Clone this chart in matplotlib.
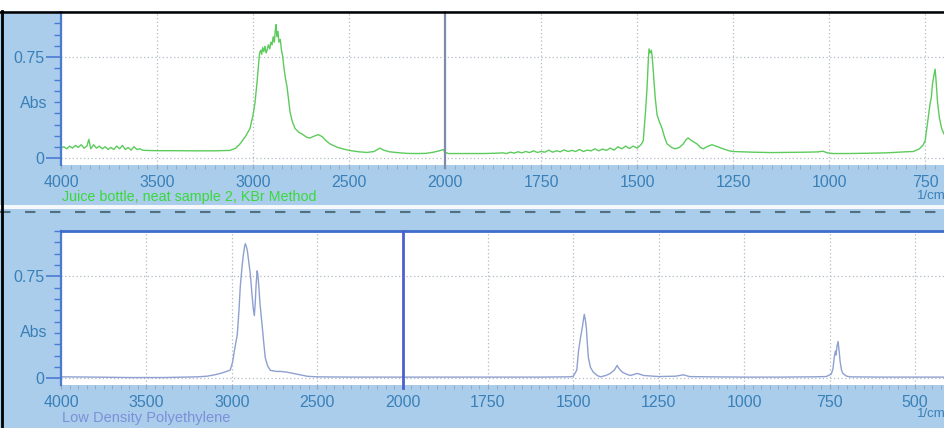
#!/usr/bin/env python3
"""
FTIR spectra: juice bottle sample vs. low density polyethylene reference
"""

import numpy as np
import matplotlib
matplotlib.use("Agg")
import matplotlib.pyplot as plt
from matplotlib.lines import Line2D
from matplotlib.patches import Rectangle

plt.rcParams['font.family'] = ['Liberation Sans', 'DejaVu Sans']

# Sample spectrum (green, upper panel) - wavenumber (1/cm) and absorbance
juice_wn = [4000, 3985, 3970, 3955, 3940, 3925, 3910, 3895, 3880, 3865, 3855, 3845,
            3830, 3815, 3800, 3785, 3770, 3755, 3740, 3725, 3710, 3695, 3680, 3665,
            3650, 3635, 3620, 3605, 3590, 3575, 3560, 3500, 3400, 3300, 3200, 3120,
            3090, 3068, 3040, 3016, 3000, 2990, 2980, 2974, 2966, 2960, 2955, 2950,
            2944, 2938, 2932, 2927, 2920, 2913, 2907, 2901, 2895, 2889, 2884, 2880,
            2876, 2870, 2865, 2858, 2852, 2846, 2840, 2830, 2823, 2807, 2795, 2781,
            2760, 2745, 2720, 2703, 2680, 2660, 2640, 2620, 2599, 2560, 2520, 2495,
            2450, 2406, 2370, 2339, 2320, 2290, 2250, 2200, 2150, 2100, 2060, 2030,
            2010, 2000, 1992, 1950, 1900, 1870, 1850, 1840, 1830, 1820, 1810, 1800,
            1790, 1780, 1770, 1760, 1750, 1740, 1730, 1720, 1710, 1700, 1690, 1680,
            1670, 1660, 1650, 1640, 1630, 1620, 1610, 1600, 1590, 1580, 1570, 1560,
            1550, 1540, 1530, 1520, 1510, 1500, 1490, 1484, 1478, 1474, 1471, 1469,
            1466, 1463, 1461, 1458, 1453, 1448, 1442, 1435, 1428, 1422, 1410, 1401,
            1390, 1380, 1372, 1367, 1358, 1344, 1335, 1328, 1315, 1305, 1290, 1276,
            1260, 1250, 1200, 1150, 1110, 1060, 1030, 1016, 1005, 990, 950, 900,
            850, 800, 781, 765, 755, 750, 742, 737, 734, 731, 727, 724,
            721, 718, 713, 707, 701]
juice_abs = [0.075, 0.085, 0.07, 0.09, 0.075, 0.095, 0.08, 0.10, 0.075, 0.09, 0.14, 0.07,
             0.10, 0.075, 0.09, 0.07, 0.085, 0.065, 0.08, 0.065, 0.09, 0.07, 0.095, 0.065,
             0.08, 0.06, 0.085, 0.065, 0.07, 0.06, 0.058, 0.056, 0.056, 0.055, 0.055, 0.058,
             0.075, 0.106, 0.16, 0.22, 0.32, 0.41, 0.55, 0.65, 0.78, 0.80, 0.77, 0.82,
             0.79, 0.83, 0.78, 0.80, 0.84, 0.81, 0.86, 0.84, 0.90, 0.86, 0.95, 0.99,
             0.90, 0.94, 0.86, 0.88, 0.80, 0.76, 0.68, 0.58, 0.53, 0.34, 0.27, 0.22,
             0.19, 0.18, 0.155, 0.15, 0.165, 0.175, 0.16, 0.13, 0.106, 0.08, 0.065, 0.057,
             0.048, 0.043, 0.05, 0.075, 0.06, 0.048, 0.042, 0.036, 0.035, 0.036, 0.045, 0.055,
             0.064, 0.045, 0.035, 0.035, 0.035, 0.037, 0.04, 0.035, 0.045, 0.038, 0.048, 0.04,
             0.05, 0.042, 0.055, 0.043, 0.05, 0.045, 0.06, 0.045, 0.055, 0.048, 0.062, 0.05,
             0.058, 0.05, 0.065, 0.05, 0.06, 0.055, 0.07, 0.055, 0.068, 0.058, 0.075, 0.06,
             0.085, 0.07, 0.09, 0.072, 0.09, 0.075, 0.10, 0.13, 0.35, 0.53, 0.72, 0.81,
             0.78, 0.80, 0.76, 0.65, 0.45, 0.32, 0.27, 0.22, 0.15, 0.106, 0.08, 0.07,
             0.08, 0.106, 0.14, 0.15, 0.13, 0.106, 0.08, 0.07, 0.09, 0.10, 0.085, 0.07,
             0.055, 0.05, 0.045, 0.042, 0.043, 0.045, 0.047, 0.052, 0.04, 0.035, 0.035, 0.037,
             0.04, 0.048, 0.05, 0.07, 0.10, 0.13, 0.30, 0.41, 0.45, 0.55, 0.62, 0.66,
             0.55, 0.42, 0.30, 0.22, 0.18]

# Reference spectrum (blue, lower panel)
ldpe_wn = [4000, 3800, 3600, 3400, 3200, 3144, 3100, 3067, 3030, 3009, 2995, 2985,
           2968, 2958, 2950, 2940, 2933, 2925, 2921, 2915, 2909, 2900, 2891, 2882,
           2874, 2868, 2863, 2858, 2852, 2848, 2842, 2835, 2821, 2812, 2804, 2790,
           2774, 2740, 2716, 2680, 2639, 2600, 2557, 2500, 2300, 2100, 2000, 1800,
           1600, 1510, 1500, 1490, 1485, 1479, 1474, 1470, 1468, 1465, 1462, 1459,
           1456, 1450, 1442, 1430, 1421, 1405, 1392, 1380, 1372, 1366, 1357, 1345,
           1333, 1313, 1300, 1295, 1250, 1200, 1178, 1160, 1100, 1000, 900, 800,
           760, 745, 740, 736, 733, 731, 728, 725, 722, 719, 715, 711,
           700, 690, 600, 500, 415]
ldpe_abs = [0.01, 0.008, 0.005, 0.005, 0.01, 0.015, 0.025, 0.035, 0.05, 0.06, 0.12, 0.2,
            0.32, 0.5, 0.68, 0.82, 0.9, 0.97, 0.99, 0.97, 0.94, 0.85, 0.76, 0.62,
            0.51, 0.46, 0.55, 0.68, 0.79, 0.77, 0.68, 0.55, 0.37, 0.25, 0.15, 0.09,
            0.058, 0.05, 0.05, 0.045, 0.035, 0.025, 0.014, 0.01, 0.008, 0.008, 0.008, 0.008,
            0.008, 0.01, 0.015, 0.06, 0.2, 0.3, 0.37, 0.44, 0.47, 0.43, 0.37, 0.25,
            0.15, 0.08, 0.045, 0.02, 0.01, 0.02, 0.035, 0.06, 0.094, 0.07, 0.045, 0.03,
            0.02, 0.035, 0.025, 0.02, 0.012, 0.015, 0.025, 0.012, 0.01, 0.008, 0.008, 0.01,
            0.012, 0.03, 0.07, 0.16, 0.2, 0.17, 0.24, 0.27, 0.2, 0.12, 0.06, 0.035,
            0.015, 0.01, 0.008, 0.008, 0.008]

top_ticks = [4000, 3500, 3000, 2500, 2000, 1750, 1500, 1250, 1000, 750]
bottom_ticks = top_ticks + [500]
top_title = "Juice bottle, neat sample 2, KBr Method"
bottom_title = "Low Density Polyethylene"

BG = '#aacdeb'
TICK_TXT = '#3a80b8'
SPINE = '#4a7bd2'
GRID = '#b0bac4'

W, H = 944, 428


def fwd(w):
    # instrument plots 2000-400 at double the scale of 4000-2000
    w = np.asarray(w, dtype=float)
    return np.where(w >= 2000, w, 2 * w - 2000)


def inv(p):
    p = np.asarray(p, dtype=float)
    return np.where(p >= 2000, p, (p + 2000) / 2)


def style_axis(ax, ticks, xmin, ylim):
    ax.set_xscale('function', functions=(fwd, inv))
    ax.set_xlim(4000, xmin)
    ax.set_ylim(*ylim)
    ax.set_xticks(ticks)
    ax.set_xticklabels([str(t) for t in ticks])
    minors = [w for w in list(range(4000, 2000, -50)) + list(range(2000, 300, -25))
              if w >= xmin]
    ax.set_xticks(minors, minor=True)
    ax.set_yticks([0, 0.75])
    ax.set_yticklabels(['0', '0.75'])
    ax.set_yticks(np.arange(0, 1.1, 0.75 / 9), minor=True)
    ax.tick_params(axis='x', which='both', direction='out', colors='#98a4b0',
                   labelcolor=TICK_TXT, labelsize=11.5, length=3, pad=4)
    ax.tick_params(axis='y', which='major', direction='out', color=SPINE,
                   labelcolor=TICK_TXT, labelsize=11.5, length=11, width=1.2, pad=1)
    ax.tick_params(axis='y', which='minor', direction='out', color=SPINE,
                   length=5, width=1)
    ax.grid(True, which='major', color=GRID, linestyle=(0, (1, 2)), linewidth=0.9)
    for side in ('right', 'bottom'):
        ax.spines[side].set_visible(False)
    ax.spines['left'].set_color(SPINE)
    ax.spines['left'].set_linewidth(1.6)
    ax.set_ylabel('Abs', rotation=0, color=TICK_TXT, fontsize=11.5,
                  ha='center', va='center')


fig = plt.figure(figsize=(W / 100, H / 100), dpi=100, facecolor=BG)

# upper panel
ax1 = fig.add_axes([61 / W, 1 - 165 / H, (W - 61) / W, 153 / H])
style_axis(ax1, top_ticks, 701, (-0.05, 1.035))
ax1.spines['top'].set_visible(False)
ax1.plot(juice_wn, juice_abs, color='#5ccb5c', linewidth=1.0)
ax1.axvline(2000, ymin=-0.02, color='#7d8cab', linewidth=1.6, zorder=3, clip_on=False)
ax1.yaxis.set_label_coords(-0.031, 0.405)

# lower panel
ax2 = fig.add_axes([61 / W, 1 - 385 / H, (W - 61) / W, 154 / H])
style_axis(ax2, bottom_ticks, 415, (-0.05, 1.06))
ax2.spines['top'].set_color('#3f6ccc')
ax2.spines['top'].set_linewidth(2)
ax2.plot(ldpe_wn, ldpe_abs, color='#8ea0cf', linewidth=1.0)
ax2.axvline(2000, ymin=-0.02, color='#4f5fcb', linewidth=2, zorder=3, clip_on=False)
ax2.yaxis.set_label_coords(-0.031, 0.344)

# captions under each panel
fig.text(62 / W, 1 - 197 / H, top_title, color='#3ad83a', fontsize=10.3,
         ha='left', va='center')
fig.text(62 / W, 1 - 418 / H, bottom_title, color='#7d8fd8', fontsize=10.5,
         ha='left', va='center')
fig.text(917 / W, 1 - 196 / H, '1/cm', color=TICK_TXT, fontsize=9.5,
         ha='left', va='center')
fig.text(917 / W, 1 - 414 / H, '1/cm', color=TICK_TXT, fontsize=9.5,
         ha='left', va='center')

# screenshot frame: white strip on top, separator between panels, black border
fig.add_artist(Rectangle((0, 1 - 11 / H), 1, 11 / H, transform=fig.transFigure,
                         facecolor='white', edgecolor='none'))
fig.add_artist(Rectangle((0, 1 - 209 / H), 1, 4 / H, transform=fig.transFigure,
                         facecolor='#f4f8fb', edgecolor='none'))
fig.add_artist(Line2D([0, 1], [1 - 212 / H] * 2, transform=fig.transFigure,
                      color='#52707f', linewidth=1.5, linestyle=(0, (5, 7))))
fig.add_artist(Line2D([0, 1], [1 - 11.5 / H] * 2, transform=fig.transFigure,
                      color='black', linewidth=1.8))
fig.add_artist(Line2D([1.5 / W] * 2, [0, 1 - 11 / H], transform=fig.transFigure,
                      color='black', linewidth=2))

fig.savefig('out.png', dpi=100, facecolor=BG)
